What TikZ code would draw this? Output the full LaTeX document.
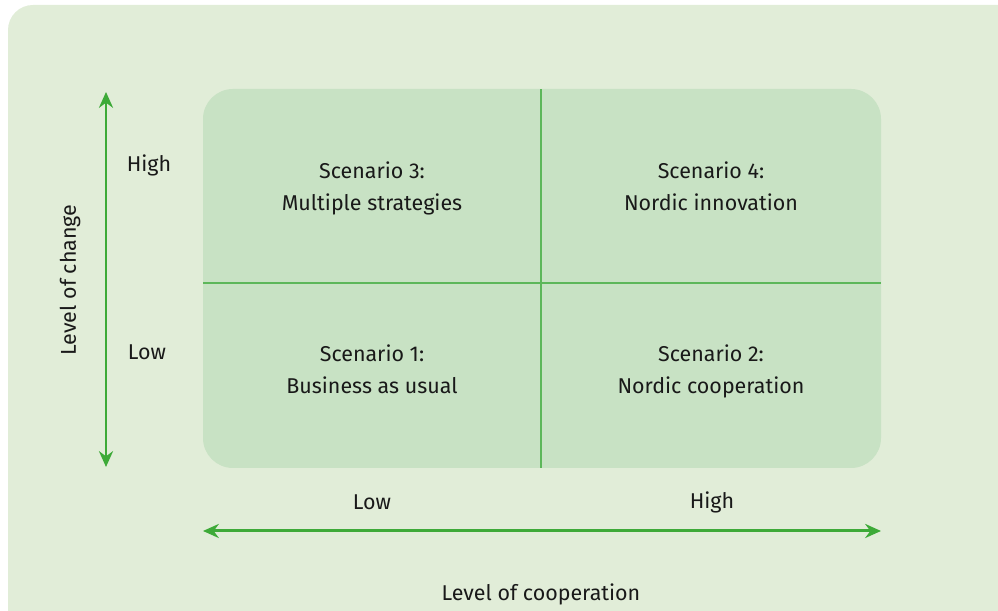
\documentclass[tikz,border=0pt]{standalone}
\usepackage{fontspec}
\setmainfont{Fira Sans}
\usetikzlibrary{arrows.meta}

\definecolor{bgpale}{HTML}{E1EDD8}
\definecolor{boxgreen}{HTML}{C8E2C4}
\definecolor{linegreen}{HTML}{5DB75A}
\definecolor{arrgreen}{HTML}{3DAA38}

\tikzset{
	axisarrow/.style={line width=1.7pt, arrgreen, {Stealth[length=9pt,width=8pt]}-{Stealth[length=9pt,width=8pt]}},
	divider/.style={line width=1.1pt, linegreen},
	lbl/.style={font=\fontsize{12.2}{18.2}\selectfont, text=black!90, align=center, inner sep=0pt}
}

\begin{document}
\begin{tikzpicture}

	\useasboundingbox (0,0) rectangle (19.96,12.22);
	\fill[bgpale, rounded corners=0.5cm] (0.16,-0.5) rectangle (20.5,12.12);

	% the four quadrants
	\fill[boxgreen, rounded corners=0.6cm] (4.06,2.86) rectangle (17.62,10.44);
	\draw[divider] (10.82,2.86) -- (10.82,10.44);
	\draw[divider] (4.06,6.56) -- (17.62,6.56);

	\node[lbl, anchor=north] (q3) at (7.44,8.99) {Scenario 3:\\Multiple strategies};
	\node[lbl, anchor=north] (q4) at (14.22,8.99) {Scenario 4:\\Nordic innovation};
	\node[lbl, anchor=north] (q1) at (7.44,5.33) {Scenario 1:\\Business as usual};
	\node[lbl, anchor=north] (q2) at (14.22,5.33) {Scenario 2:\\Nordic cooperation};

	% level of change
	\coordinate (chgtop) at (2.12,10.38);
	\coordinate (chgbot) at (2.12,2.88);
	\draw[axisarrow] (chgbot) -- (chgtop);
	\node[lbl] (chghigh) at (2.98,8.92) {High};
	\node[lbl] (chglow) at (2.94,5.18) {Low};
	\node[lbl, rotate=90] (chgname) at (1.4,6.62) {Level of change};

	% level of cooperation
	\coordinate (coopleft) at (4.06,1.6);
	\coordinate (coopright) at (17.62,1.6);
	\draw[axisarrow] (coopleft) -- (coopright);
	\node[lbl] (cooplow) at (7.44,2.18) {Low};
	\node[lbl] (coophigh) at (14.24,2.18) {High};
	\node[lbl] (coopname) at (10.82,0.34) {Level of cooperation};
\end{tikzpicture}
\end{document}
